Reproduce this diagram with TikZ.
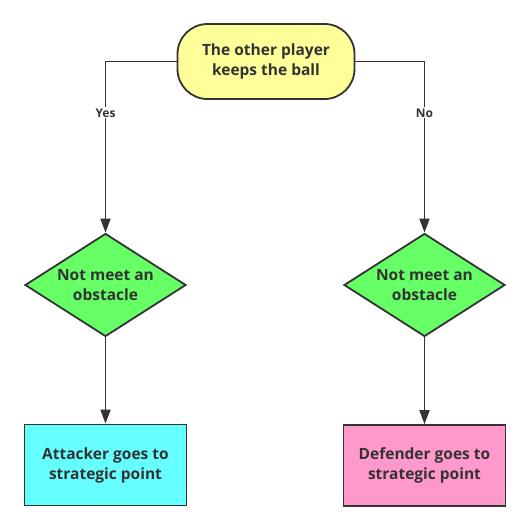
\documentclass[tikz,border=0pt]{standalone}
\usepackage{fontspec}
\setmainfont{Open Sans}
\usepackage{tikz}
\usetikzlibrary{shapes.geometric,arrows.meta}
\definecolor{trait}{HTML}{333333}
\definecolor{jaune}{HTML}{FFFF99}
\definecolor{vert}{HTML}{66FF66}
\definecolor{cyan}{HTML}{66FFFF}
\definecolor{rose}{HTML}{FF99CC}
\begin{document}
\begin{tikzpicture}[x=1pt,y=-1pt]

\tikzset{bloc/.style={draw=trait,line width=1.8pt,text=trait,font=\fontsize{15.5}{20}\selectfont\bfseries,align=center,inner sep=0pt}, %style des blocs
	test/.style={bloc,diamond,aspect=1.56,minimum width=161pt,minimum height=103pt,fill=vert},
	fin/.style={bloc,rectangle,minimum width=162pt,minimum height=81pt},
	fleche/.style={draw=trait,line width=1.8pt,-{Triangle[length=14pt,width=10pt]}},
	etiq/.style={fill=white,text=trait,font=\fontsize{12}{14}\selectfont\bfseries,inner sep=1pt}}

\useasboundingbox (0,0) rectangle (530,531);

%--------------------bloc de départ---------------------
	\node[bloc,rectangle,rounded corners=30pt,minimum width=177pt,minimum height=75pt,fill=jaune] (balle) at (266,61.5) {The other player\\keeps the ball};

%--------------------les deux tests---------------------
	\node[test] (obstG) at (105.5,285) {Not meet an\\obstacle};
	\node[test] (obstD) at (424.5,285) {Not meet an\\obstacle};

%--------------------blocs de fin---------------------
	\node[fin,fill=cyan] (attaq) at (105.5,465) {Attacker goes to\\strategic point};
	\node[fin,fill=rose] (defen) at (424.5,465.5) {Defender goes to\\strategic point};

	%flèches
	\draw[fleche] (balle.west) -| (obstG.north) node[etiq,pos=0.65] {Yes};
	\draw[fleche] (balle.east) -| (obstD.north) node[etiq,pos=0.65] {No};
	\draw[fleche] (obstG.south) -- (attaq.north);
	\draw[fleche] (obstD.south) -- (defen.north);

\end{tikzpicture}
\end{document}
